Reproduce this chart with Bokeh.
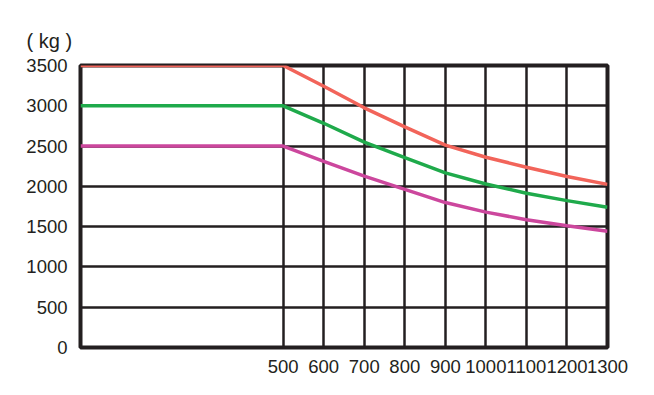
from bokeh.plotting import figure
from bokeh.models import Range1d, FixedTicker
from bokeh.embed import file_html
from bokeh.resources import INLINE

# data
speed = [0, 500, 600, 700, 800, 900, 1000, 1100, 1200, 1300]
load_3500 = [3500, 3500, 3242, 2975, 2738, 2512, 2361, 2238, 2123, 2025]
load_3000 = [3000, 3000, 2783, 2549, 2357, 2168, 2029, 1914, 1823, 1741]
load_2500 = [2500, 2500, 2311, 2127, 1963, 1799, 1680, 1586, 1512, 1442]
x_ticks = [500, 600, 700, 800, 900, 1000, 1100, 1200, 1300]
y_ticks = [0, 500, 1000, 1500, 2000, 2500, 3000, 3500]

FONT = "Liberation Sans"
TXT = "#231f20"

p = figure(width=646, height=387, output_backend="svg", toolbar_location=None,
           x_range=Range1d(0, 1300), y_range=Range1d(0, 3500),
           min_border_left=80, min_border_right=39, min_border_top=65, min_border_bottom=40,
           title="( kg )")

p.title.text_font = FONT
p.title.text_font_size = "20px"
p.title.text_font_style = "normal"
p.title.text_color = TXT
p.title.align = "left"
p.title.offset = -54
p.title.standoff = 28

p.outline_line_color = TXT
p.outline_line_width = 4
p.background_fill_color = "white"
p.border_fill_color = "white"

for ax in (p.xaxis[0], p.yaxis[0]):
    ax.axis_line_color = None
    ax.major_tick_line_color = None
    ax.minor_tick_line_color = None
    ax.major_label_text_font = FONT
    ax.major_label_text_font_size = "18.5px"
    ax.major_label_text_color = TXT

p.xaxis[0].ticker = FixedTicker(ticks=x_ticks)
p.yaxis[0].ticker = FixedTicker(ticks=y_ticks)
p.xaxis[0].major_label_standoff = 6
p.yaxis[0].major_label_standoff = 7

p.xgrid[0].ticker = FixedTicker(ticks=x_ticks)
p.ygrid[0].ticker = FixedTicker(ticks=y_ticks)
for g in (p.xgrid[0], p.ygrid[0]):
    g.grid_line_color = TXT
    g.grid_line_width = 2.5
    g.grid_line_alpha = 1.0

p.line(speed, load_2500, line_color="#cc479d", line_width=3.5)
p.line(speed, load_3000, line_color="#1faa4b", line_width=3.5)
p.line(speed, load_3500, line_color="#f2645a", line_width=3.5)

open("out.html", "w").write(file_html(p, INLINE))
